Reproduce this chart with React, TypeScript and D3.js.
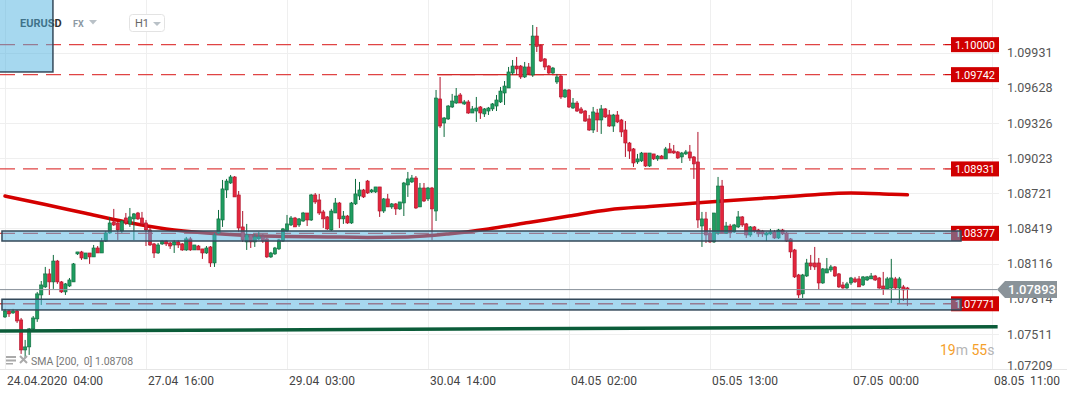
import React from "react";
import * as d3 from "d3";

// hourly EURUSD candles, [open, high, low, close]
const ohlc: number[][] = [
  [1.07658, 1.07727, 1.07649, 1.07709], [1.07709, 1.07718, 1.07658, 1.07684], [1.07692, 1.07727, 1.07684, 1.07709],
  [1.07709, 1.07718, 1.07606, 1.07623], [1.07632, 1.07649, 1.0734, 1.07374], [1.07374, 1.0746, 1.07305, 1.074],
  [1.074, 1.07563, 1.07331, 1.07555], [1.07555, 1.07666, 1.07546, 1.07649], [1.07641, 1.07873, 1.07615, 1.07856],
  [1.07847, 1.07967, 1.07761, 1.07933], [1.07916, 1.08088, 1.07907, 1.08028], [1.08028, 1.08071, 1.07847, 1.07959],
  [1.07959, 1.08191, 1.07899, 1.08139], [1.08139, 1.08148, 1.07942, 1.07959], [1.07959, 1.07967, 1.07864, 1.07873],
  [1.07873, 1.0795, 1.07847, 1.07942], [1.07924, 1.07993, 1.07916, 1.07976], [1.07959, 1.08122, 1.07959, 1.08114],
  [1.082, 1.08217, 1.08191, 1.08217], [1.08217, 1.08226, 1.08148, 1.08165], [1.08157, 1.08208, 1.08157, 1.08208],
  [1.08208, 1.08208, 1.08114, 1.08174], [1.08174, 1.08277, 1.08174, 1.08251], [1.08251, 1.08268, 1.08208, 1.08208],
  [1.08208, 1.08337, 1.08208, 1.08311], [1.08311, 1.08397, 1.08303, 1.0838], [1.0838, 1.08518, 1.08372, 1.08466],
  [1.08475, 1.08587, 1.0844, 1.08449], [1.08466, 1.08475, 1.0832, 1.08406], [1.08397, 1.08492, 1.0838, 1.08483],
  [1.08509, 1.08552, 1.08449, 1.08466], [1.08458, 1.08595, 1.08432, 1.08518], [1.08501, 1.08552, 1.0832, 1.08544],
  [1.08552, 1.08561, 1.08492, 1.08501], [1.08509, 1.08561, 1.0844, 1.08458], [1.08466, 1.08492, 1.08268, 1.08406],
  [1.08406, 1.08423, 1.08268, 1.08277], [1.08286, 1.08294, 1.08165, 1.08208], [1.08208, 1.08294, 1.082, 1.08277],
  [1.08286, 1.0832, 1.08277, 1.08311], [1.08311, 1.0832, 1.08268, 1.08286], [1.08294, 1.08303, 1.08243, 1.08268],
  [1.08277, 1.0832, 1.08208, 1.08303], [1.08303, 1.0832, 1.08251, 1.08277], [1.08286, 1.08294, 1.08226, 1.08234],
  [1.08234, 1.08346, 1.08226, 1.08329], [1.08329, 1.08346, 1.08226, 1.08234], [1.08234, 1.08277, 1.08234, 1.08277],
  [1.08268, 1.08277, 1.08234, 1.08234], [1.08243, 1.08243, 1.08157, 1.08208], [1.08208, 1.08268, 1.082, 1.08251],
  [1.0826, 1.08268, 1.08088, 1.08122], [1.08122, 1.0838, 1.08088, 1.08363], [1.0838, 1.08578, 1.08372, 1.08501],
  [1.08492, 1.08836, 1.08432, 1.08759], [1.0875, 1.08845, 1.08681, 1.08827], [1.0881, 1.08879, 1.08802, 1.08862],
  [1.08862, 1.0887, 1.0869, 1.0869], [1.08707, 1.08741, 1.08389, 1.08423], [1.08432, 1.08569, 1.08303, 1.0832],
  [1.08303, 1.08458, 1.08234, 1.08363], [1.08363, 1.08372, 1.08251, 1.08303], [1.08303, 1.08372, 1.0826, 1.08346],
  [1.08329, 1.08389, 1.0832, 1.08346], [1.08346, 1.08372, 1.08294, 1.08311], [1.08329, 1.08337, 1.08165, 1.08174],
  [1.08174, 1.08217, 1.08165, 1.08208], [1.082, 1.0826, 1.08191, 1.08251], [1.08243, 1.08329, 1.08234, 1.0832],
  [1.08311, 1.08423, 1.08303, 1.08415], [1.08397, 1.08535, 1.08389, 1.08458], [1.08449, 1.08526, 1.0844, 1.08509],
  [1.08509, 1.08518, 1.08432, 1.08432], [1.08449, 1.08509, 1.08432, 1.08501], [1.08483, 1.08561, 1.08475, 1.08552],
  [1.08552, 1.08552, 1.0844, 1.08492], [1.08492, 1.08716, 1.08483, 1.08707], [1.08707, 1.08724, 1.0863, 1.08647],
  [1.08664, 1.08716, 1.08535, 1.08552], [1.08561, 1.08578, 1.08423, 1.08501], [1.08518, 1.08526, 1.08406, 1.08415],
  [1.08406, 1.08587, 1.08397, 1.08569], [1.08552, 1.08681, 1.08552, 1.08638], [1.08638, 1.08647, 1.08423, 1.08501],
  [1.08501, 1.08569, 1.08458, 1.08526], [1.08526, 1.08535, 1.08458, 1.08466], [1.08466, 1.08647, 1.08458, 1.08638],
  [1.0863, 1.08845, 1.08621, 1.08716], [1.08698, 1.08819, 1.08664, 1.0875], [1.0875, 1.08759, 1.08681, 1.0869],
  [1.08827, 1.08836, 1.08716, 1.08724], [1.08733, 1.08759, 1.08724, 1.0875], [1.08733, 1.08776, 1.08724, 1.08776],
  [1.08776, 1.08776, 1.08518, 1.08569], [1.08569, 1.08681, 1.08552, 1.08673], [1.08673, 1.08716, 1.08604, 1.08604],
  [1.08604, 1.08638, 1.08587, 1.0863], [1.0863, 1.08638, 1.08535, 1.08587], [1.08587, 1.08647, 1.08578, 1.08647],
  [1.08638, 1.08819, 1.08526, 1.0881], [1.08793, 1.08905, 1.0869, 1.08845], [1.08819, 1.08879, 1.0881, 1.08853],
  [1.08853, 1.0887, 1.08587, 1.08595], [1.08604, 1.0881, 1.08604, 1.08767], [1.08767, 1.0881, 1.08647, 1.08655],
  [1.08673, 1.08776, 1.08655, 1.08767], [1.08767, 1.08776, 1.0832, 1.08587], [1.08569, 1.0961, 1.08483, 1.09541],
  [1.09533, 1.09722, 1.09283, 1.093], [1.09326, 1.09378, 1.09206, 1.09369], [1.09361, 1.09481, 1.09352, 1.09472],
  [1.09464, 1.09576, 1.09455, 1.09515], [1.09498, 1.09627, 1.0949, 1.09558], [1.09567, 1.09584, 1.09498, 1.09498],
  [1.0949, 1.09524, 1.09481, 1.09507], [1.09507, 1.09524, 1.09404, 1.09412], [1.09412, 1.09472, 1.09412, 1.09447],
  [1.09429, 1.0955, 1.09335, 1.09455], [1.09464, 1.09472, 1.09361, 1.09412], [1.09404, 1.09455, 1.09378, 1.09447],
  [1.09429, 1.09464, 1.09395, 1.09455], [1.09447, 1.09498, 1.09429, 1.0949], [1.09472, 1.09567, 1.09429, 1.09524],
  [1.09507, 1.09636, 1.09498, 1.09601], [1.09584, 1.09687, 1.09481, 1.09644], [1.09627, 1.09808, 1.09627, 1.09765],
  [1.09756, 1.09868, 1.09739, 1.09816], [1.09816, 1.09894, 1.09739, 1.09791], [1.09816, 1.09825, 1.09705, 1.09722],
  [1.09722, 1.09851, 1.09713, 1.09808], [1.09808, 1.09842, 1.09739, 1.09748], [1.09739, 1.10169, 1.09722, 1.10074],
  [1.10074, 1.10152, 1.09937, 1.09985], [1.09994, 1.10002, 1.09851, 1.09859], [1.09877, 1.09885, 1.09782, 1.09808],
  [1.09816, 1.09825, 1.09748, 1.09756], [1.09756, 1.09808, 1.09748, 1.09799], [1.09679, 1.09748, 1.09662, 1.09722],
  [1.0973, 1.09739, 1.09533, 1.0955], [1.0955, 1.09619, 1.09541, 1.0961], [1.0961, 1.09619, 1.09455, 1.09464],
  [1.09455, 1.09541, 1.09447, 1.09498], [1.09498, 1.09515, 1.09421, 1.09429], [1.09447, 1.09464, 1.09404, 1.09412],
  [1.09429, 1.09438, 1.09335, 1.09343], [1.09361, 1.09395, 1.09257, 1.09266], [1.09266, 1.09464, 1.0924, 1.09421],
  [1.09412, 1.09447, 1.09249, 1.09352], [1.09352, 1.09481, 1.09232, 1.09447], [1.09447, 1.09455, 1.09369, 1.09378],
  [1.09395, 1.09438, 1.09292, 1.093], [1.093, 1.09404, 1.09249, 1.09395], [1.09395, 1.09429, 1.09326, 1.09335],
  [1.09352, 1.09361, 1.09206, 1.09249], [1.09266, 1.09343, 1.09034, 1.09154], [1.09154, 1.09163, 1.09017, 1.09085],
  [1.09103, 1.09111, 1.08948, 1.08982], [1.08991, 1.0906, 1.08974, 1.09017], [1.09, 1.09077, 1.08991, 1.09068],
  [1.09068, 1.09068, 1.08948, 1.08956], [1.08956, 1.09068, 1.08948, 1.09068], [1.0906, 1.0906, 1.09008, 1.09017],
  [1.09017, 1.09051, 1.09, 1.09042], [1.09042, 1.09051, 1.09017, 1.09017], [1.09017, 1.0912, 1.09017, 1.09103],
  [1.09103, 1.09154, 1.09068, 1.09068], [1.09085, 1.09137, 1.0906, 1.09068], [1.09077, 1.09085, 1.09017, 1.09025],
  [1.09034, 1.09077, 1.08982, 1.09068], [1.0906, 1.09094, 1.09051, 1.09077], [1.09077, 1.09137, 1.09, 1.09025],
  [1.09034, 1.09042, 1.08845, 1.08974], [1.08991, 1.09249, 1.08423, 1.08492], [1.0844, 1.08561, 1.0826, 1.08501],
  [1.08501, 1.08561, 1.08294, 1.08363], [1.0838, 1.08423, 1.08294, 1.08303], [1.08303, 1.08552, 1.08294, 1.08552],
  [1.0838, 1.08862, 1.08363, 1.08784], [1.08784, 1.08836, 1.0838, 1.0838], [1.0838, 1.08475, 1.08372, 1.0844],
  [1.0844, 1.08458, 1.08337, 1.0838], [1.08389, 1.08458, 1.0838, 1.08449], [1.08432, 1.08569, 1.08423, 1.08518],
  [1.08518, 1.08526, 1.08432, 1.08449], [1.08458, 1.08466, 1.08337, 1.08363], [1.08363, 1.0844, 1.08346, 1.08432],
  [1.08432, 1.0844, 1.0838, 1.08397], [1.08406, 1.08415, 1.08346, 1.08372], [1.08397, 1.08406, 1.08346, 1.08372],
  [1.08363, 1.08389, 1.08311, 1.0838], [1.08372, 1.08415, 1.08363, 1.08389], [1.08389, 1.08406, 1.08329, 1.08337],
  [1.08337, 1.08415, 1.08329, 1.08406], [1.08406, 1.08415, 1.08363, 1.08372], [1.0838, 1.08389, 1.08303, 1.08311],
  [1.08329, 1.08337, 1.08165, 1.08217], [1.08234, 1.08243, 1.07993, 1.08002], [1.08019, 1.08028, 1.07821, 1.07847],
  [1.07856, 1.08028, 1.07821, 1.08019], [1.0801, 1.08157, 1.08002, 1.08122], [1.08122, 1.08191, 1.08062, 1.08096],
  [1.08122, 1.0826, 1.08062, 1.08088], [1.08122, 1.08165, 1.0789, 1.0795], [1.0795, 1.08079, 1.07942, 1.08071],
  [1.08036, 1.08165, 1.08036, 1.08071], [1.08062, 1.08105, 1.08045, 1.08088], [1.08088, 1.08096, 1.08002, 1.0801],
  [1.08028, 1.08036, 1.07907, 1.07916], [1.07933, 1.07959, 1.07899, 1.07907], [1.07907, 1.07959, 1.07899, 1.07942],
  [1.0795, 1.08002, 1.07933, 1.07993], [1.07985, 1.08002, 1.0795, 1.07959], [1.07985, 1.0801, 1.07916, 1.07916],
  [1.07933, 1.0801, 1.07924, 1.08002], [1.07976, 1.0801, 1.07967, 1.08002], [1.07985, 1.08036, 1.07985, 1.0801],
  [1.0801, 1.08019, 1.07967, 1.07976], [1.07993, 1.08002, 1.07899, 1.07907], [1.07924, 1.08045, 1.07847, 1.07899],
  [1.07899, 1.08002, 1.0789, 1.07985], [1.07907, 1.08157, 1.07778, 1.07993], [1.07985, 1.08002, 1.0789, 1.07907],
  [1.07907, 1.08002, 1.07778, 1.07985], [1.07916, 1.07933, 1.07795, 1.0789], [1.07907, 1.07916, 1.07752, 1.07893],
];

// SMA(200) sampled along the candle index
const smaIndex = [0, 10, 20, 30, 40, 50, 60, 70, 80, 90, 100, 110, 120, 130, 140, 150, 160, 170, 180, 190, 200, 210, 220, 224];
const smaValue = [
  1.08698, 1.08625, 1.08549, 1.08475, 1.08415, 1.0838, 1.08359, 1.0835, 1.08346, 1.08342, 1.08346, 1.08372,
  1.08415, 1.0847, 1.08526, 1.0858, 1.08608, 1.08634, 1.0866, 1.08683, 1.08707, 1.08724, 1.08713, 1.08708,
];

const timeTickIndex = [0, 35, 70, 105, 140, 175, 210, 245];
const timeTickLabels = [
  "24.04.2020  04:00", "27.04  16:00", "29.04  03:00", "30.04  14:00",
  "04.05  02:00", "05.05  13:00", "07.05  00:00", "08.05  11:00",
];
const priceTicks = [1.09931, 1.09628, 1.09326, 1.09023, 1.08721, 1.08419, 1.08116, 1.07814, 1.07511, 1.07209];

const lineLevels = [1.1, 1.09742, 1.08931];
const zoneLevels = [1.08377, 1.07771];
const zoneTop = [1.08397, 1.0781];
const zoneBottom = [1.08311, 1.07718];
const trendIndex = [-1.24, 246.4];
const trendValue = [1.07537, 1.07574];
const lastPrice = 1.07893;
const smaLast = 1.08708;

const GREEN = "#1f9d60";
const GREEN_DARK = "#0e6a3d";
const RED = "#e3263c";
const RED_DARK = "#b0122b";
const ZONE_FILL = "#4db1df";
const ZONE_STROKE = "#34495a";

export default function App() {
  const width = 1067;
  const height = 395;
  const plotRight = 999;
  const plotBottom = 369;

  const x = d3.scaleLinear().domain([0, 35]).range([5, 146]);
  const y = d3.scaleLinear().domain([1.0721, 1.10384]).range([plotBottom, 0]);

  const smaLine = d3
    .line<number>()
    .x((d, i) => x(smaIndex[i]))
    .y((d) => y(d))
    .curve(d3.curveMonotoneX);

  const fmt = d3.format(".5f");

  return (
    <svg
      width={width}
      height={height}
      style={{ position: "absolute", left: 0, top: 0, fontFamily: "Roboto, sans-serif", background: "#fff" }}
    >
      <defs>
        <clipPath id="plot">
          <rect x={0} y={0} width={plotRight} height={plotBottom} />
        </clipPath>
      </defs>

      {/* grid */}
      <g stroke="#efefef" strokeWidth={1}>
        {priceTicks.map((t) => (
          <line key={t} x1={0} x2={plotRight} y1={Math.round(y(t)) + 0.5} y2={Math.round(y(t)) + 0.5} />
        ))}
        {timeTickIndex.map((t) => (
          <line key={t} x1={Math.round(x(t)) + 0.5} x2={Math.round(x(t)) + 0.5} y1={0} y2={plotBottom} />
        ))}
      </g>
      <line x1={0} x2={width} y1={plotBottom + 0.5} y2={plotBottom + 0.5} stroke="#e6e6e6" />

      {/* header */}
      <text x={20} y={27} fontSize={11} fontWeight={700} fill="#333">EURUSD</text>
      <text x={73} y={27} fontSize={9} fontWeight={700} fill="#8c99a3">FX</text>
      <path d="M89,20 L97,20 L93,24.5 Z" fill="#b9c1c7" />
      <rect x={129.5} y={14.5} width={35} height={17} rx={3} fill="#fff" stroke="#e3e3e3" />
      <text x={135} y={27} fontSize={11} fill="#666">H1</text>
      <path d="M153,22 L161,22 L157,26 Z" fill="#b9c1c7" />

      {/* horizontal levels */}
      {[...lineLevels, ...zoneLevels].map((l) => {
        const yy = y(l);
        return (
          <g key={l}>
            <line x1={0} x2={945} y1={yy} y2={yy} stroke="#e04444" strokeWidth={1.4} strokeDasharray="15 8" />
            <line x1={945} x2={951} y1={yy} y2={yy} stroke="#d00000" strokeWidth={1.2} />
            <rect x={951} y={yy - 7.5} width={48} height={15} fill="#d00000" />
            <text x={975} y={yy + 4} fontSize={11} fill="#fff" textAnchor="middle">{fmt(l)}</text>
          </g>
        );
      })}
      <line x1={x(107.5)} x2={x(138)} y1={y(lineLevels[1])} y2={y(lineLevels[1])} stroke="#d42a2a" strokeWidth={1.2} />

      <g clipPath="url(#plot)">
        {/* SMA 200 */}
        <path d={smaLine(smaValue) || ""} fill="none" stroke="#d40000" strokeWidth={3.5} strokeLinecap="round" />

        {/* candles */}
        {ohlc.map((d, i) => {
          const [o, h, l, c] = d;
          const up = c >= o;
          const cx = x(i);
          const top = y(Math.max(o, c));
          const bh = Math.max(1, Math.abs(y(o) - y(c)));
          return (
            <g key={i}>
              <line x1={cx} x2={cx} y1={y(h)} y2={y(l)} stroke={up ? GREEN_DARK : RED_DARK} strokeWidth={1} />
              <rect
                x={cx - 1.6}
                y={top}
                width={3.2}
                height={bh}
                fill={up ? GREEN : RED}
                stroke={up ? GREEN_DARK : RED_DARK}
                strokeWidth={0.6}
              />
            </g>
          );
        })}
      </g>

      {/* zones */}
      {zoneLevels.map((l, k) => (
        <rect
          key={l}
          x={x(-0.75)}
          y={y(zoneTop[k])}
          width={961 - x(-0.75)}
          height={y(zoneBottom[k]) - y(zoneTop[k])}
          fill={ZONE_FILL}
          fillOpacity={0.5}
          stroke={ZONE_STROKE}
          strokeWidth={1.5}
        />
      ))}

      {/* support trend line */}
      <line
        x1={x(trendIndex[0])}
        x2={x(trendIndex[1])}
        y1={y(trendValue[0])}
        y2={y(trendValue[1])}
        stroke="#0b5c39"
        strokeWidth={3.5}
      />

      {/* price axis */}
      {priceTicks.map((t) => (
        <text key={t} x={1007} y={Math.min(y(t), 365) + 4.5} fontSize={12.5} fill="#555">
          {fmt(t)}
        </text>
      ))}

      {/* last price */}
      <line x1={0} x2={997} y1={y(lastPrice)} y2={y(lastPrice)} stroke="#88919a" strokeWidth={1} />
      <path
        d={`M997,${y(lastPrice)} L1005,${y(lastPrice) - 8.5} L1057,${y(lastPrice) - 8.5} L1057,${y(lastPrice) + 8.5} L1005,${y(lastPrice) + 8.5} Z`}
        fill="#8a9399"
      />
      <text x={1008} y={y(lastPrice) + 4.5} fontSize={13} fontWeight={500} fill="#fff">{fmt(lastPrice)}</text>

      {/* time axis */}
      {timeTickIndex.map((t, i) => (
        <text key={t} x={x(t) + 2} y={385} fontSize={12} fill="#444" style={{ whiteSpace: "pre" }}>
          {timeTickLabels[i]}
        </text>
      ))}

      {/* drawn box top-left */}
      <rect
        x={x(-1.5)}
        y={-2}
        width={x(11.9) - x(-1.5)}
        height={y(1.09765) + 2}
        fill={ZONE_FILL}
        fillOpacity={0.5}
        stroke={ZONE_STROKE}
        strokeWidth={1.5}
      />

      {/* SMA legend */}
      <g fill="#aaa">
        <rect x={6} y={356} width={10} height={2} />
        <rect x={6} y={359.5} width={10} height={2} />
        <rect x={6} y={363} width={7} height={1.5} />
      </g>
      <path d="M20,356 L27,363 M27,356 L20,363" stroke="#aaa" strokeWidth={2} />
      <text x={31} y={365} fontSize={10.5} fill="#777" style={{ whiteSpace: "pre" }}>
        {`SMA [200,  0] ${fmt(smaLast)}`}
      </text>

      {/* countdown */}
      <text x={940} y={355} fontSize={14} style={{ whiteSpace: "pre" }}>
        <tspan fill="#f5a02a">19</tspan>
        <tspan fill="#b5b5b5">m </tspan>
        <tspan fill="#f5a02a">55</tspan>
        <tspan fill="#b5b5b5">s</tspan>
      </text>
    </svg>
  );
}
